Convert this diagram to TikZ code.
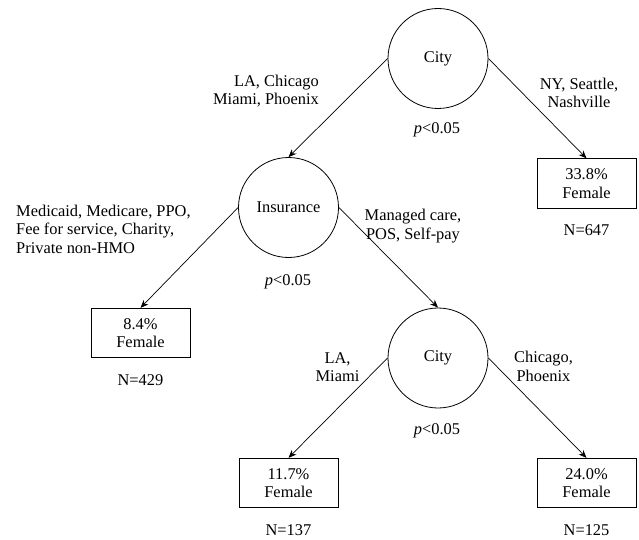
\documentclass[tikz,border=0pt]{standalone}
\usepackage{fontspec}
\setmainfont{Liberation Serif}
\usetikzlibrary{arrows.meta}
\begin{document}
\begin{tikzpicture}[x=1pt,y=-1pt,
  font=\fontsize{16.4}{18.5}\selectfont,
  split/.style={draw, circle, minimum size=100pt, inner sep=0pt, line width=0.8pt},
  leaf/.style={draw, rectangle, minimum width=99pt, minimum height=49.5pt, inner sep=0pt, align=center, line width=0.8pt},
  lbl/.style={inner sep=0pt},
  edge/.style={line width=0.7pt, -{Stealth[length=8pt,width=6.5pt]}}
]
\useasboundingbox (0,0) rectangle (639,540);
\node[split] (c1) at (438,58.5) {City};
\node[lbl] (p1) at (437,130) {\textit{p}<0.05};
\node[split] (ins) at (288.5,207.5) {Insurance};
\node[lbl] (p2) at (288,282) {\textit{p}<0.05};
\node[split] (c2) at (438,358) {City};
\node[lbl] (p3) at (437,431) {\textit{p}<0.05};
\node[leaf] (b1) at (586.5,183.5) {33.8\%\\Female};
\node[lbl] (n1) at (586.5,230) {N=647};
\node[leaf] (b2) at (140.5,333) {8.4\%\\Female};
\node[lbl] (n2) at (140.5,380) {N=429};
\node[leaf] (b3) at (288.5,483) {11.7\%\\Female};
\node[lbl] (n3) at (288.5,530) {N=137};
\node[leaf] (b4) at (586.5,483) {24.0\%\\Female};
\node[lbl] (n4) at (586.5,530) {N=125};

\node[lbl, align=right, anchor=east] (l1) at (319,91) {LA, Chicago\\Miami, Phoenix};
\node[lbl, align=center] (l2) at (579,93) {NY, Seattle,\\Nashville};
\node[lbl, align=left, anchor=west] (l3) at (16,229) {Medicaid, Medicare, PPO,\\Fee for service, Charity,\\Private non-HMO};
\node[lbl, align=center] (l4) at (413,226) {Managed care,\\POS, Self-pay};
\node[lbl, align=center] (l5) at (337.5,367) {LA,\\Miami};
\node[lbl, align=center] (l6) at (543.5,366.5) {Chicago,\\Phoenix};

\draw[edge] (c1.west) -- (ins.north);
\draw[edge] (c1.east) -- (b1.north);
\draw[edge] (ins.west) -- (b2.north);
\draw[edge] (ins.east) -- (c2.north);
\draw[edge] (c2.west) -- (b3.north);
\draw[edge] (c2.east) -- (b4.north);
\end{tikzpicture}
\end{document}
